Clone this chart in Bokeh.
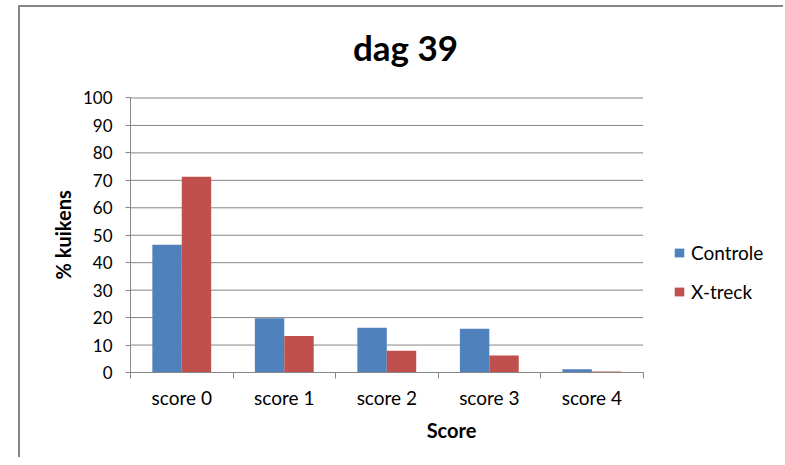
import numpy as np
from bokeh.plotting import figure
from bokeh.layouts import row
from bokeh.models import (ColumnDataSource, FixedTicker, Legend, LegendItem, Range1d,
                          Label, Spacer, Title)
from bokeh.transform import dodge
from bokeh.embed import file_html
from bokeh.resources import INLINE

categories = ["score 0", "score 1", "score 2", "score 3", "score 4"]
controle = [46.5, 19.8, 16.3, 15.9, 1.2]
xtreck = [71.3, 13.3, 7.9, 6.2, 0.4]
series_names = ["Controle", "X-treck"]
series_colors = ["#4F81BD", "#C0504D"]
y_ticks = list(range(0, 101, 10))
title_text = "dag 39"
x_title = "Score"
y_title = "% kuikens"

FONT = "Lato"
GRAY = "#868686"

n = len(categories)
FRAME_W, FRAME_H = 640, 363
PLOT_W, PLOT_H = 511, 273  # pixel size of the value area
pos = np.arange(n) + 0.5
src = ColumnDataSource(dict(x=pos, controle=controle, xtreck=xtreck))

p = figure(frame_width=FRAME_W, frame_height=FRAME_H, output_backend="svg",
           toolbar_location=None,
           x_range=Range1d(0, n * FRAME_W / PLOT_W),
           y_range=Range1d(0, 100 * FRAME_H / PLOT_H),
           min_border_left=110, min_border_right=13, min_border_top=0,
           min_border_bottom=87)
p.styles = {"border-left": "2px solid #868686", "border-top": "2px solid #868686",
            "position": "relative", "top": "5px"}
p.outline_line_color = None
p.background_fill_color = "white"
p.border_fill_color = "white"

# chart title
p.add_layout(Label(x=275, y=326, x_units="screen", y_units="screen", text=title_text,
                   text_font=FONT, text_font_size="35px", text_font_style="bold",
                   text_color="#000000", text_align="center", text_baseline="alphabetic"))

# horizontal gridlines limited to the category area
p.segment(x0=[0] * len(y_ticks), x1=[n] * len(y_ticks), y0=y_ticks, y1=y_ticks,
          line_color=GRAY, line_width=1)

bw = 0.287
r1 = p.vbar(x=dodge("x", -bw / 2), top="controle", width=bw, source=src,
            fill_color=series_colors[0], line_color=None)
r2 = p.vbar(x=dodge("x", bw / 2), top="xtreck", width=bw, source=src,
            fill_color=series_colors[1], line_color=None)

# x axis
xa = p.xaxis[0]
xa.bounds = (0, n)
xa.ticker = FixedTicker(ticks=list(pos), minor_ticks=list(range(n + 1)))
xa.major_label_overrides = {float(v): c for v, c in zip(pos, categories)}
xa.major_tick_out = 0
xa.major_tick_in = 0
xa.minor_tick_out = 6
xa.minor_tick_in = 0
xa.minor_tick_line_color = GRAY
xa.axis_line_color = GRAY
xa.major_label_text_font = FONT
xa.major_label_text_font_size = "19px"
xa.major_label_text_color = "#000000"
xa.major_label_standoff = 7
xa.axis_label = x_title
xa.axis_label_text_font = FONT
xa.axis_label_text_font_size = "20px"
xa.axis_label_text_font_style = "bold"
xa.axis_label_text_color = "#000000"
xa.axis_label_standoff = 6

ya = p.yaxis[0]
ya.bounds = (0, 100)
ya.ticker = FixedTicker(ticks=y_ticks, minor_ticks=[])
ya.major_tick_out = 5
ya.major_tick_in = 0
ya.major_tick_line_color = GRAY
ya.minor_tick_line_color = None
ya.axis_line_color = GRAY
ya.major_label_text_font = FONT
ya.major_label_text_font_size = "17px"
ya.major_label_text_color = "#000000"
ya.major_label_standoff = 13

# y axis title, placed beside the value area
p.add_layout(Title(text=y_title, align="left", offset=93, standoff=10,
                   text_font=FONT, text_font_size="20px", text_font_style="bold",
                   text_color="#000000"), "left")

p.xgrid.grid_line_color = None
p.ygrid.grid_line_color = None

legend = Legend(items=[LegendItem(label=series_names[0], renderers=[r1]),
                       LegendItem(label=series_names[1], renderers=[r2])],
                location=(543, 69), orientation="vertical")
legend.border_line_color = None
legend.background_fill_alpha = 0
legend.padding = 0
legend.margin = 0
legend.spacing = 16
legend.glyph_width = 12
legend.glyph_height = 11
legend.label_height = 20
legend.label_standoff = 6
legend.label_text_font = FONT
legend.label_text_font_size = "19px"
legend.label_text_color = "#000000"
p.add_layout(legend, "center")

layout = row(Spacer(width=18), p)
open("out.html", "w").write(file_html(layout, INLINE))
